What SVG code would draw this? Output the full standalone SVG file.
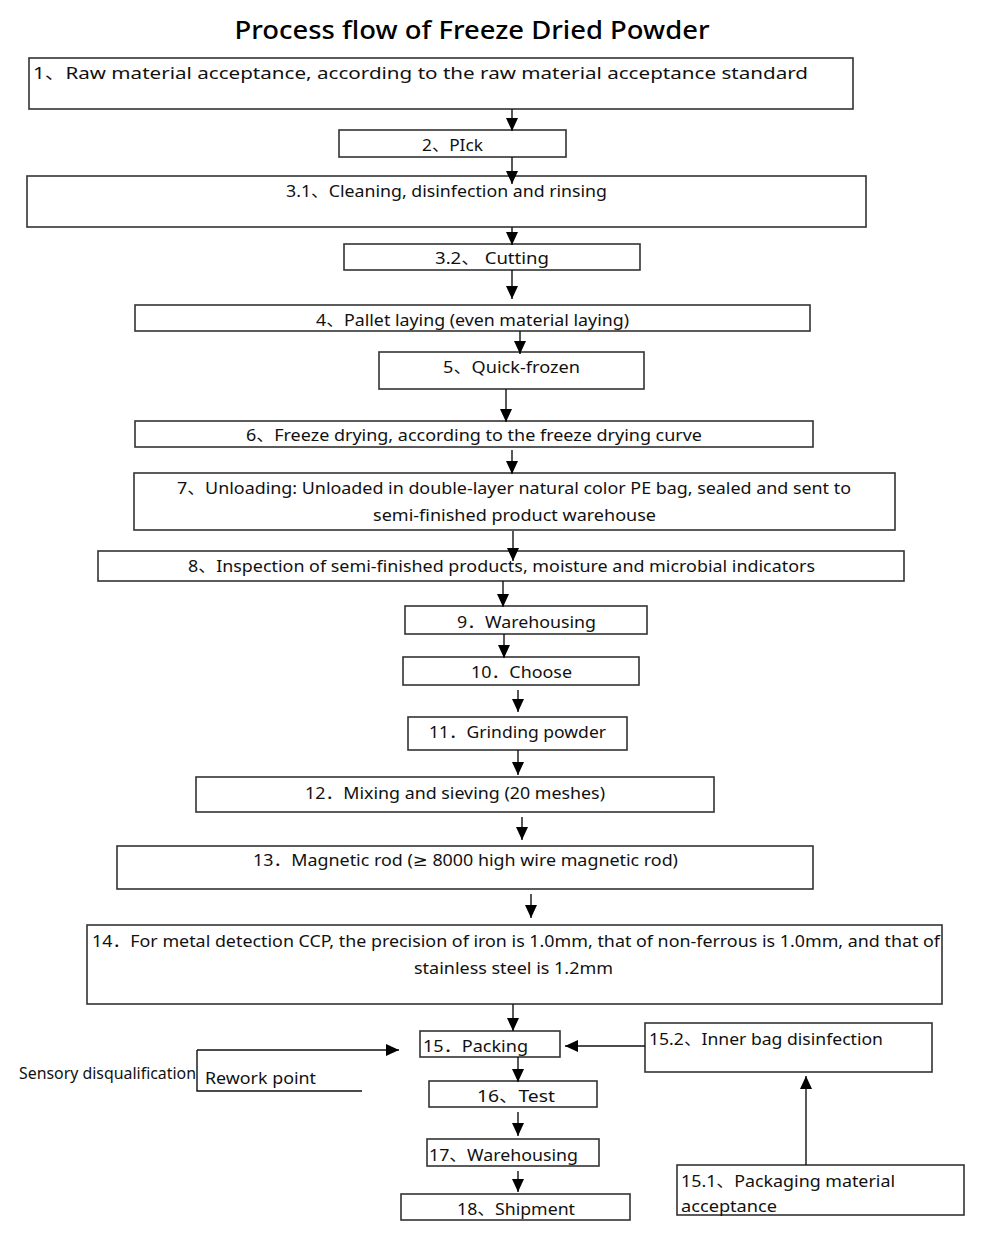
<svg xmlns="http://www.w3.org/2000/svg" width="1000" height="1248" viewBox="0 0 1000 1248">
<defs>
<marker id="ah" markerUnits="userSpaceOnUse" markerWidth="13" markerHeight="12" refX="13" refY="6" orient="auto">
<path d="M0,0 L13,6 L0,12 z" fill="#000"/>
</marker>
<style>
.box{fill:#fff;stroke:#333;stroke-width:1.6}
.t{font-family:"Noto Sans","Noto Sans CJK SC",sans-serif;font-size:16.5px;fill:#111}
.ln{fill:none;stroke:#111;stroke-width:1.4}
.title{font-family:"Noto Sans","Noto Sans CJK SC",sans-serif;font-size:26px;font-weight:500;fill:#000;text-anchor:middle}
.sym{font-family:"DejaVu Sans","Liberation Sans",sans-serif}
</style>
</defs>
<rect width="1000" height="1248" fill="#fff"/>
<text class="title" x="472" y="39" textLength="475" lengthAdjust="spacingAndGlyphs">Process flow of Freeze Dried Powder</text>

<g id="n1"><rect class="box" x="29" y="58" width="824" height="51"/><text class="t" x="33" y="79" textLength="775" lengthAdjust="spacingAndGlyphs">1、Raw material acceptance, according to the raw material acceptance standard</text></g>
<g id="n2"><rect class="box" x="339" y="130" width="227" height="27"/><text class="t" x="422" y="151" textLength="61" lengthAdjust="spacingAndGlyphs">2、PIck</text></g>
<g id="n3_1"><rect class="box" x="27" y="176" width="839" height="51"/><text class="t" x="286" y="197" textLength="321" lengthAdjust="spacingAndGlyphs">3.1、Cleaning, disinfection and rinsing</text></g>
<g id="n3_2"><rect class="box" x="344" y="244" width="296" height="26"/><text class="t" x="435" y="264" textLength="114" lengthAdjust="spacingAndGlyphs">3.2、 Cutting</text></g>
<g id="n4"><rect class="box" x="135" y="305" width="675" height="26"/><text class="t" x="316" y="326" textLength="313" lengthAdjust="spacingAndGlyphs">4、Pallet laying (even material laying)</text></g>
<g id="n5"><rect class="box" x="379" y="352" width="265" height="37"/><text class="t" x="443" y="373" textLength="137" lengthAdjust="spacingAndGlyphs">5、Quick-frozen</text></g>
<g id="n6"><rect class="box" x="135" y="421" width="678" height="26"/><text class="t" x="246" y="441" textLength="456" lengthAdjust="spacingAndGlyphs">6、Freeze drying, according to the freeze drying curve</text></g>
<g id="n7"><rect class="box" x="134" y="473" width="761" height="57"/><text class="t" x="177" y="494" textLength="674" lengthAdjust="spacingAndGlyphs">7、Unloading: Unloaded in double-layer natural color PE bag, sealed and sent to</text><text class="t" x="373" y="521" textLength="283" lengthAdjust="spacingAndGlyphs">semi-finished product warehouse</text></g>
<g id="n8"><rect class="box" x="98" y="551" width="806" height="30"/><text class="t" x="188" y="572" textLength="627" lengthAdjust="spacingAndGlyphs">8、Inspection of semi-finished products, moisture and microbial indicators</text></g>
<g id="n9"><rect class="box" x="405" y="606" width="242" height="28"/><text class="t" x="457" y="628" textLength="139" lengthAdjust="spacingAndGlyphs">9．Warehousing</text></g>
<g id="n10"><rect class="box" x="403" y="657" width="236" height="28"/><text class="t" x="471" y="678" textLength="101" lengthAdjust="spacingAndGlyphs">10．Choose</text></g>
<g id="n11"><rect class="box" x="408" y="717" width="219" height="33"/><text class="t" x="429" y="738" textLength="177" lengthAdjust="spacingAndGlyphs">11．Grinding powder</text></g>
<g id="n12"><rect class="box" x="196" y="777" width="518" height="35"/><text class="t" x="305" y="799" textLength="300" lengthAdjust="spacingAndGlyphs">12．Mixing and sieving (20 meshes)</text></g>
<g id="n13"><rect class="box" x="117" y="846" width="696" height="43"/><text class="t" x="253" y="866" textLength="425" lengthAdjust="spacingAndGlyphs">13．Magnetic rod (<tspan class="sym">≥</tspan> 8000 high wire magnetic rod)</text></g>
<g id="n14"><rect class="box" x="87" y="925" width="855" height="79"/><text class="t" x="92" y="947" textLength="848" lengthAdjust="spacingAndGlyphs">14．For metal detection CCP, the precision of iron is 1.0mm, that of non-ferrous is 1.0mm, and that of</text><text class="t" x="414" y="974" textLength="199" lengthAdjust="spacingAndGlyphs">stainless steel is 1.2mm</text></g>
<g id="n15"><rect class="box" x="420" y="1031" width="140" height="26"/><text class="t" x="423" y="1052" textLength="105" lengthAdjust="spacingAndGlyphs">15．Packing</text></g>
<g id="n15_2"><rect class="box" x="645" y="1023" width="287" height="49"/><text class="t" x="649" y="1045" textLength="234" lengthAdjust="spacingAndGlyphs">15.2、Inner bag disinfection</text></g>
<g id="n15_1"><rect class="box" x="677" y="1165" width="287" height="50"/><text class="t" x="681" y="1187" textLength="214" lengthAdjust="spacingAndGlyphs">15.1、Packaging material</text><text class="t" x="681" y="1212" textLength="96" lengthAdjust="spacingAndGlyphs">acceptance</text></g>
<g id="rework"><text class="t" x="19" y="1079" textLength="177" lengthAdjust="spacingAndGlyphs">Sensory disqualification</text><path class="ln" d="M362 1091 H197 V1050"/><text class="t" x="205" y="1084" textLength="111" lengthAdjust="spacingAndGlyphs">Rework point</text></g>
<g id="n16"><rect class="box" x="429" y="1081" width="168" height="26"/><text class="t" x="477" y="1102" textLength="78" lengthAdjust="spacingAndGlyphs">16、Test</text></g>
<g id="n17"><rect class="box" x="427" y="1139" width="172" height="27"/><text class="t" x="429" y="1161" textLength="149" lengthAdjust="spacingAndGlyphs">17、Warehousing</text></g>
<g id="n18"><rect class="box" x="401" y="1194" width="229" height="26"/><text class="t" x="457" y="1215" textLength="118" lengthAdjust="spacingAndGlyphs">18、Shipment</text></g>

<g id="connectors">
<path class="ln" marker-end="url(#ah)" d="M512 109 V131"/>
<path class="ln" marker-end="url(#ah)" d="M512 157 V184"/>
<path class="ln" marker-end="url(#ah)" d="M512 227 V245"/>
<path class="ln" marker-end="url(#ah)" d="M512 270 V299"/>
<path class="ln" marker-end="url(#ah)" d="M520 331 V354"/>
<path class="ln" marker-end="url(#ah)" d="M506 389 V422"/>
<path class="ln" marker-end="url(#ah)" d="M512 450 V474"/>
<path class="ln" marker-end="url(#ah)" d="M513 531 V561"/>
<path class="ln" marker-end="url(#ah)" d="M503 581 V607"/>
<path class="ln" marker-end="url(#ah)" d="M504 634 V658"/>
<path class="ln" marker-end="url(#ah)" d="M518 690 V712"/>
<path class="ln" marker-end="url(#ah)" d="M518 750 V775"/>
<path class="ln" marker-end="url(#ah)" d="M522 817 V840"/>
<path class="ln" marker-end="url(#ah)" d="M531 894 V918"/>
<path class="ln" marker-end="url(#ah)" d="M513 1004 V1031"/>
<path class="ln" marker-end="url(#ah)" d="M645 1046 H565"/>
<path class="ln" marker-end="url(#ah)" d="M806 1165 V1076"/>
<path class="ln" marker-end="url(#ah)" d="M197 1050 H399"/>
<path class="ln" marker-end="url(#ah)" d="M518 1057 V1082"/>
<path class="ln" marker-end="url(#ah)" d="M518 1112 V1136"/>
<path class="ln" marker-end="url(#ah)" d="M518 1171 V1192"/>
</g>
</svg>
